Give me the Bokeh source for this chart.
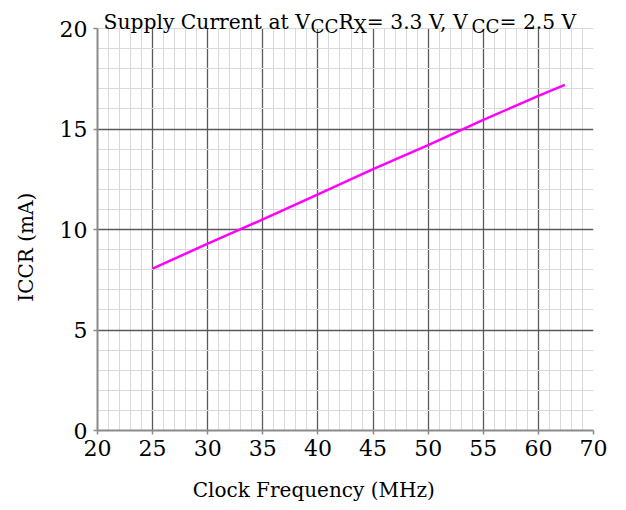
import glob
import struct

from bokeh.plotting import figure
from bokeh.models import Range1d, FixedTicker, Label, BoxAnnotation
from bokeh.embed import file_html
from bokeh.resources import INLINE

# ---- data ----
freq_mhz = [25, 30, 35, 40, 45, 50, 55, 60, 62.4]
iccr_ma = [8.05, 9.3, 10.5, 11.75, 13.0, 14.2, 15.45, 16.65, 17.2]

x_tick_values = [20, 25, 30, 35, 40, 45, 50, 55, 60, 65]
x_tick_labels = ["20", "25", "30", "35", "40", "45", "50", "55", "60", "70"]
y_tick_values = [0, 5, 10, 15, 20]

x_title = "Clock Frequency (MHz)"
y_title = "ICCR (mA)"

# title pieces: (text, is_subscript)
title_parts = [
    ("Supply Current at V", False),
    ("CC", True),
    ("R", False),
    ("X", True),
    ("= 3.3 V, V", False),
    ("CC", True),
    ("= 2.5 V", False),
]

FONT = "DejaVu Serif"


def make_measure():
    """Return a function giving text advance width in em, read from the font file."""
    paths = glob.glob("/usr/share/fonts/**/DejaVuSerif.ttf", recursive=True)
    if not paths:
        return lambda t: 0.62 * len(t)
    try:
        data = open(paths[0], "rb").read()
        num_tables = struct.unpack(">H", data[4:6])[0]
        tables = {}
        for i in range(num_tables):
            tag, _cs, off, _ln = struct.unpack(">4sIII", data[12 + 16 * i:28 + 16 * i])
            tables[tag.decode("latin1")] = off
        upem = struct.unpack(">H", data[tables["head"] + 18:tables["head"] + 20])[0]
        nhm = struct.unpack(">H", data[tables["hhea"] + 34:tables["hhea"] + 36])[0]
        hm = tables["hmtx"]
        adv = [struct.unpack(">H", data[hm + 4 * i:hm + 4 * i + 2])[0] for i in range(nhm)]
        cm = tables["cmap"]
        n = struct.unpack(">H", data[cm + 2:cm + 4])[0]
        sub = None
        for i in range(n):
            pid, eid, off = struct.unpack(">HHI", data[cm + 4 + 8 * i:cm + 12 + 8 * i])
            fmt = struct.unpack(">H", data[cm + off:cm + off + 2])[0]
            if pid == 3 and eid == 1 and fmt == 4:
                sub = cm + off
        seg2 = struct.unpack(">H", data[sub + 6:sub + 8])[0]
        segs = seg2 // 2
        ends = struct.unpack(">%dH" % segs, data[sub + 14:sub + 14 + seg2])
        so = sub + 16 + seg2
        starts = struct.unpack(">%dH" % segs, data[so:so + seg2])
        do = so + seg2
        deltas = struct.unpack(">%dh" % segs, data[do:do + seg2])
        ro = do + seg2
        ros = struct.unpack(">%dH" % segs, data[ro:ro + seg2])

        def gid(c):
            for i in range(segs):
                if ends[i] >= c:
                    if starts[i] > c:
                        return 0
                    if ros[i] == 0:
                        return (c + deltas[i]) & 0xFFFF
                    addr = ro + 2 * i + ros[i] + 2 * (c - starts[i])
                    g = struct.unpack(">H", data[addr:addr + 2])[0]
                    return (g + deltas[i]) & 0xFFFF if g else 0
            return 0

        def measure(text):
            return sum(adv[min(gid(ord(ch)), nhm - 1)] for ch in text) / upem
        return measure
    except Exception:
        return lambda t: 0.62 * len(t)


measure = make_measure()

# frame: x 97..593 px, y(20)=28 px, y(0)=430 px; frame top at canvas top so the
# title can sit inside the frame above the 20 mA line
W, H = 626, 510
LEFT, RIGHT, BOTTOM = 97, 33, 80
frame_h = H - BOTTOM
y_top = y_tick_values[-1] * frame_h / (frame_h - 28)

p = figure(width=W, height=H, output_backend="svg", toolbar_location=None,
           x_range=Range1d(20, 65), y_range=Range1d(0, y_top),
           min_border_left=LEFT, min_border_right=RIGHT, min_border_top=0,
           min_border_bottom=BOTTOM)
p.outline_line_color = None
p.background_fill_color = "white"
p.border_fill_color = "white"

AXIS_LABEL_PX = 20.0


def pad(text, shift_px):
    """Trailing no-break spaces shift a centred axis title back by shift_px."""
    n = int(round(2 * shift_px / (measure("\u00a0") * AXIS_LABEL_PX)))
    return text + "\u00a0" * n


# axes
for ax in (p.xaxis[0], p.yaxis[0]):
    ax.axis_line_color = "#8a8a8a"
    ax.axis_line_width = 2
    ax.major_tick_line_color = "#8a8a8a"
    ax.major_tick_line_width = 1.5
    ax.major_tick_out = 4
    ax.major_tick_in = 0
    ax.minor_tick_out = 0
    ax.minor_tick_in = 0
    ax.major_label_text_font = FONT
    ax.major_label_text_font_size = "22px"
    ax.major_label_text_color = "black"
    ax.axis_label_text_font = FONT
    ax.axis_label_text_font_size = "%dpx" % AXIS_LABEL_PX
    ax.axis_label_text_font_style = "normal"
    ax.axis_label_text_color = "black"

p.xaxis.ticker = FixedTicker(ticks=x_tick_values)
p.xaxis.major_label_overrides = {v: l for v, l in zip(x_tick_values, x_tick_labels)}
p.yaxis.ticker = FixedTicker(ticks=y_tick_values)
p.yaxis.bounds = (0, 20)
p.xaxis.axis_label = pad(x_title, 32)
p.yaxis.axis_label = pad(y_title, 31)
p.xaxis.major_label_standoff = 5
p.yaxis.major_label_standoff = 6
p.xaxis.axis_label_standoff = 19
p.yaxis.axis_label_standoff = 19

# grids: dark major lines, light minor lines
x_major = [v for v in x_tick_values if 20 < v < 65]
x_minor = [v for v in range(21, 66) if v not in x_major]
y_major = [v for v in y_tick_values if 0 < v < 20]
y_minor = [v for v in range(1, 21) if v not in y_major]
p.xgrid.ticker = FixedTicker(ticks=x_major, minor_ticks=x_minor)
p.ygrid.ticker = FixedTicker(ticks=y_major, minor_ticks=y_minor)
for g in (p.xgrid[0], p.ygrid[0]):
    g.grid_line_color = "#5a5a5a"
    g.grid_line_width = 1.3
    g.minor_grid_line_color = "#d9d9d9"
    g.minor_grid_line_width = 1
if "cross_bounds" in p.xgrid[0].properties():
    p.xgrid[0].cross_bounds = (0, 20)

# white band above the top gridline, where the title sits
p.add_layout(BoxAnnotation(left=20, right=65, bottom=20.03, top=y_top,
                           fill_color="white", fill_alpha=1.0, line_color=None))

p.line(freq_mhz, iccr_ma, line_color="#ff00ff", line_width=2.5)

# title with subscripts, laid out from real glyph advances
SUB_RATIO = 0.9
em_total = sum(measure(t) * (SUB_RATIO if s else 1.0) for t, s in title_parts)
main_size = max(18.0, min(24.0, 473.0 / em_total))
sub_size = main_size * SUB_RATIO
xoff = 6.0
for text, sub in title_parts:
    size = sub_size if sub else main_size
    p.add_layout(Label(x=20, y=20, x_offset=xoff, y_offset=(2 if sub else 7),
                       text=text, text_font=FONT,
                       text_font_size="%.1fpx" % size,
                       text_color="black", text_baseline="alphabetic", text_align="left"))
    xoff += measure(text) * size

open("out.html", "w").write(file_html(p, INLINE))
